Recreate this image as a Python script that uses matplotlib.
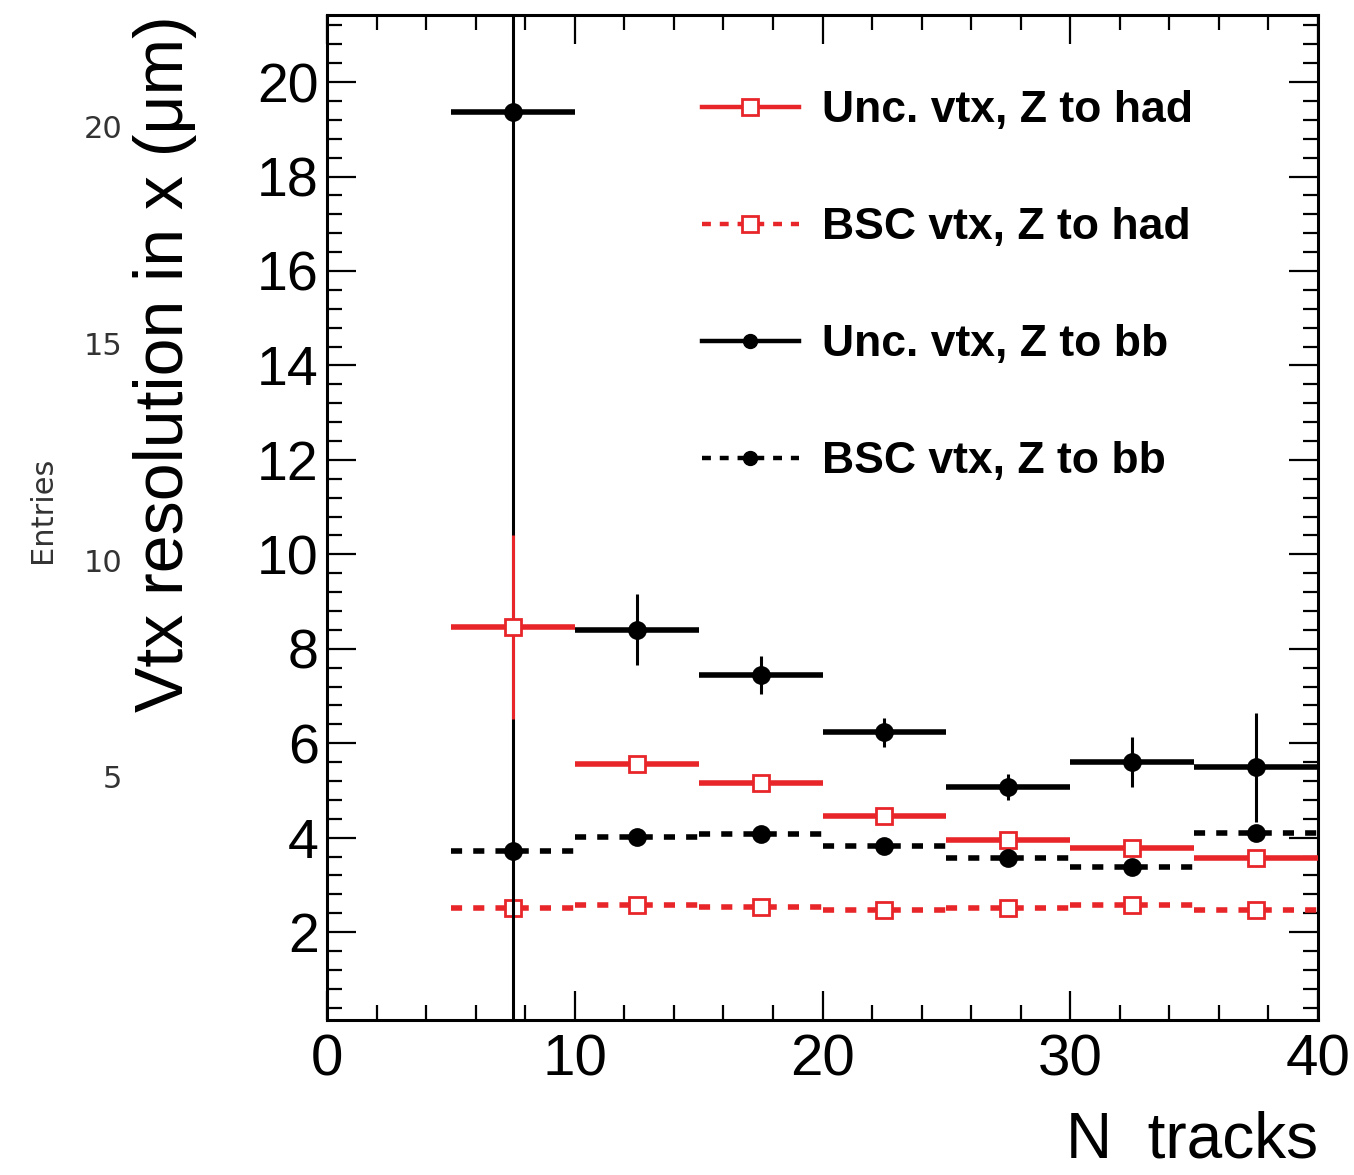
import numpy as np
import matplotlib
matplotlib.use("Agg")
import matplotlib.pyplot as plt
from matplotlib.lines import Line2D
from matplotlib.ticker import MultipleLocator

plt.rcParams['font.family'] = ['Liberation Sans', 'DejaVu Sans']

# ---- data ----
bin_centers = [7.5, 12.5, 17.5, 22.5, 27.5, 32.5, 37.5]
bin_halfwidth = 2.5

unc_had = [8.46, 5.56, 5.15, 4.46, 3.95, 3.78, 3.57]
unc_had_err = [1.95, 0.10, 0.10, 0.10, 0.10, 0.10, 0.15]

bsc_had = [2.51, 2.57, 2.53, 2.47, 2.51, 2.57, 2.47]
bsc_had_err = [0.05, 0.05, 0.05, 0.05, 0.05, 0.05, 0.05]

unc_bb = [19.36, 8.40, 7.44, 6.23, 5.07, 5.60, 5.49]
unc_bb_err = [25.0, 0.75, 0.40, 0.30, 0.28, 0.53, 1.15]

bsc_bb = [3.71, 4.01, 4.07, 3.82, 3.57, 3.38, 4.11]
bsc_bb_err = [0.05, 0.05, 0.05, 0.05, 0.05, 0.05, 0.05]

legend_labels = ["Unc. vtx, Z to had", "BSC vtx, Z to had",
                 "Unc. vtx, Z to bb", "BSC vtx, Z to bb"]

ghost_ticks = [5, 10, 15, 20]

RED = '#e8262a'
W, H = 1354, 1175
fig = plt.figure(figsize=(W / 100, H / 100), dpi=100)
ax = fig.add_axes([327 / W, 1 - 1020 / H, (1318 - 327) / W, (1020 - 15) / H])

def draw(y, yerr, color, marker, ls, z, mfc, ms):
    eb = ax.errorbar(bin_centers, y, xerr=bin_halfwidth, yerr=yerr, fmt=marker,
                     color=color, mfc=mfc, mec=color, ms=ms, mew=2.0,
                     elinewidth=3.2, capsize=0, zorder=z)
    xcol, ycol = eb[2]
    xcol.set_linewidth(4.0)
    ycol.set_linewidth(2.2)
    if ls != '-':
        xcol.set_linestyle((0, (2.0, 2.0)))
    return eb

draw(bsc_had, bsc_had_err, RED, 's', '--', 3, 'white', 12)
draw(unc_bb, unc_bb_err, 'black', 'o', '-', 4, 'black', 11.5)
draw(unc_had, unc_had_err, RED, 's', '-', 5, 'white', 12)
draw(bsc_bb, bsc_bb_err, 'black', 'o', '--', 6, 'black', 11.5)

ax.set_xlim(0, 40)
ax.set_ylim(0.14, 21.42)

ax.xaxis.set_major_locator(MultipleLocator(10))
ax.xaxis.set_minor_locator(MultipleLocator(2))
ax.yaxis.set_major_locator(MultipleLocator(2))
ax.yaxis.set_minor_locator(MultipleLocator(0.4))
ax.set_yticks(np.arange(2, 21, 2))
ax.tick_params(which='both', direction='in', top=True, right=True, width=1.6)
ax.tick_params(which='major', length=21, labelsize=40)
ax.tick_params(which='minor', length=11)
ax.tick_params(axis='x', which='major', pad=10, labelsize=42)
ax.tick_params(axis='y', which='major', pad=6)
for s in ax.spines.values():
    s.set_linewidth(2.2)

fig.text(165 / W, 1 - 15 / H, "Vtx resolution in x (\u03bcm)", rotation=90,
         ha='center', va='top', fontsize=49)
fig.text(1318 / W, 1 - 1140 / H, "N  tracks", ha='right', va='center', fontsize=46)

# ghost "Entries" axis labels from underlying canvas
fig.text(42 / W, 1 - 510 / H, "Entries", rotation=90, ha='center', va='center',
         fontsize=22, color='#333333', family='DejaVu Sans')
for t in ghost_ticks:
    ypix = 780 - (t - 5) * (780 - 130) / 15
    fig.text(122 / W, 1 - ypix / H, str(t), ha='right', va='center',
             fontsize=22, color='#333333', family='DejaVu Sans')

handles = [
    Line2D([], [], color=RED, lw=3.2, ls='-', marker='s', ms=11, mfc='white', mec=RED, mew=2),
    Line2D([], [], color=RED, lw=3.2, ls=(0, (2, 2)), marker='s', ms=11, mfc='white', mec=RED, mew=2),
    Line2D([], [], color='black', lw=3.2, ls='-', marker='o', ms=10, mfc='black'),
    Line2D([], [], color='black', lw=3.2, ls=(0, (2, 2)), marker='o', ms=10, mfc='black'),
]
leg = ax.legend(handles, legend_labels, loc='upper left', bbox_to_anchor=(0.360, 0.943),
                frameon=False, prop={'weight': 'bold', 'size': 32},
                handlelength=2.2, handletextpad=0.5, labelspacing=1.71, borderaxespad=0)

fig.savefig("out.png", dpi=100)
